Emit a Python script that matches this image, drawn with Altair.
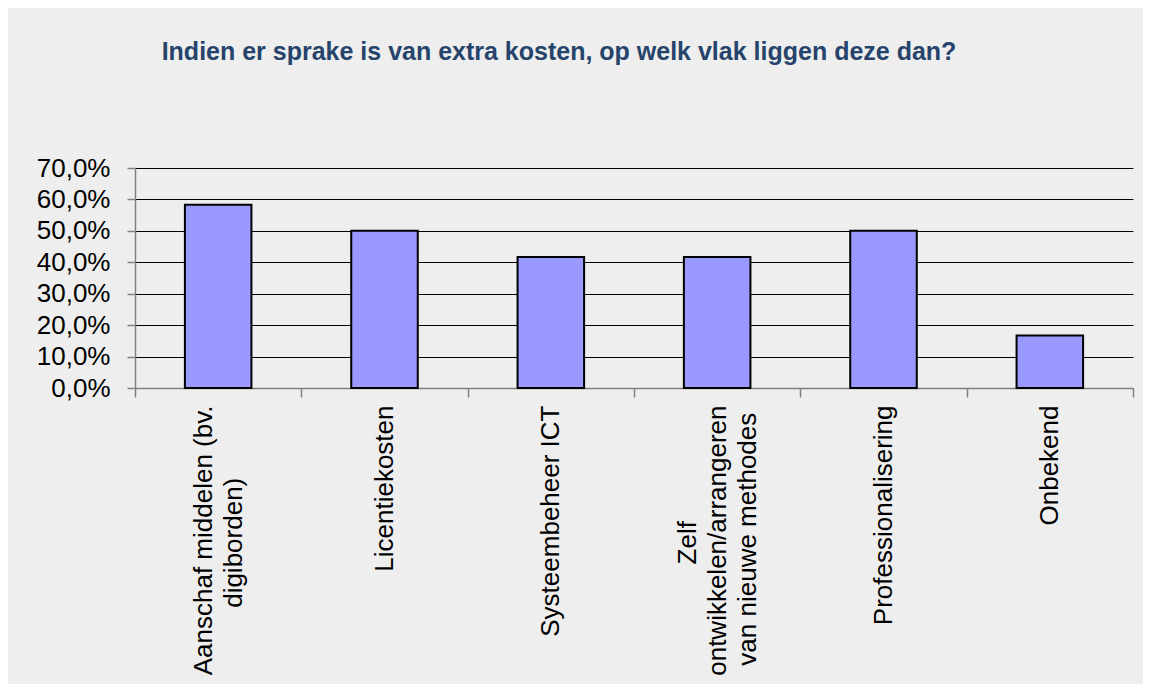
import altair as alt
import pandas as pd

# ---- data ----
categories = [
    "Aanschaf middelen (bv.\ndigiborden)",
    "Licentiekosten",
    "Systeembeheer ICT",
    "Zelf\nontwikkelen/arrangeren\nvan nieuwe methodes",
    "Professionalisering",
    "Onbekend",
]
shares = [0.583, 0.500, 0.417, 0.417, 0.500, 0.167]
y_ticks = [0.0, 0.1, 0.2, 0.3, 0.4, 0.5, 0.6, 0.7]
title_text = "Indien er sprake is van extra kosten, op welk vlak liggen deze dan?"

# approximate advance widths (1/1000 em) of Liberation Sans, used only to
# centre the lines of a wrapped category label like the original does
_W = {" ": 278, "(": 333, ")": 333, ".": 278, "/": 278, "A": 667, "C": 722,
      "I": 278, "L": 556, "O": 778, "P": 667, "S": 667, "T": 611, "Z": 611,
      "c": 500, "f": 278, "i": 222, "k": 500, "l": 222, "m": 833, "r": 333,
      "s": 500, "t": 278, "v": 500, "w": 722, "y": 500}


def _width(s):
    return sum(_W.get(ch, 556) for ch in s)


def centred(label):
    lines = label.split("\n")
    longest = max(_width(line) for line in lines)
    out = []
    for line in lines:
        n = round((longest - _width(line)) / 2 / 278)
        out.append(line + ("\u00a0" * n + "\u200b" if n else ""))
    return "\n".join(out)


df = pd.DataFrame({
    "categorie": [centred(c) for c in categories],
    "aandeel": shares,
})

label_font = "Liberation Sans"

baseline_rule = {
    "condition": [
        {"test": "indexof(datum.label, '\\n') < 0", "value": "line-top"},
        {"test": "length(split(datum.label, '\\n')) >= 3", "value": "line-bottom"},
    ],
    "value": "middle",
}

bars = alt.Chart(df).mark_bar(
    color="#9999ff", stroke="#000000", strokeWidth=2,
    width=alt.RelativeBandSize(0.4),
).encode(
    x=alt.X(
        "categorie:N", sort=None, title=None,
        scale=alt.Scale(paddingInner=0, paddingOuter=0),
        axis=alt.Axis(
            labelAngle=270, labelAlign="right", labelBaseline=baseline_rule,
            labelExpr="split(datum.label, '\\n')",
            labelFont=label_font, labelFontSize=26, labelColor="#000000",
            labelLineHeight=30, labelPadding=8, labelOffset=-15,
            labelLimit=0, labelOverlap=False,
            tickBand="extent", tickSize=9, tickColor="#808080", tickWidth=1.5,
            domainColor="#808080", domainWidth=1.5,
        ),
    ),
    y=alt.Y(
        "aandeel:Q", title=None,
        scale=alt.Scale(domain=[0, 0.7], nice=False),
        axis=alt.Axis(
            values=y_ticks,
            labelExpr="replace(format(datum.value, '.1%'), '.', ',')",
            grid=True, gridColor="#000000", gridWidth=1,
            tickSize=8, tickColor="#808080", tickWidth=1.5,
            domainColor="#808080", domainWidth=1.5,
            labelFont=label_font, labelFontSize=26, labelColor="#000000",
            labelPadding=17,
        ),
    ),
)

chart = bars.properties(
    width=998,
    height=220,
    padding={"left": 127, "top": 160, "right": 10, "bottom": 296},
    autosize=alt.AutoSizeParams(type="none"),
    title=alt.TitleParams(
        title_text,
        font=label_font,
        fontSize=25,
        fontWeight="bold",
        color="#26446b",
        anchor="middle",
        frame="group",
        dx=-75,
        offset=90,
    ),
).configure(
    background="#eeeeee"
).configure_view(
    strokeWidth=0
)

chart.save("out.html", embed_options={"renderer": "svg", "actions": False})
